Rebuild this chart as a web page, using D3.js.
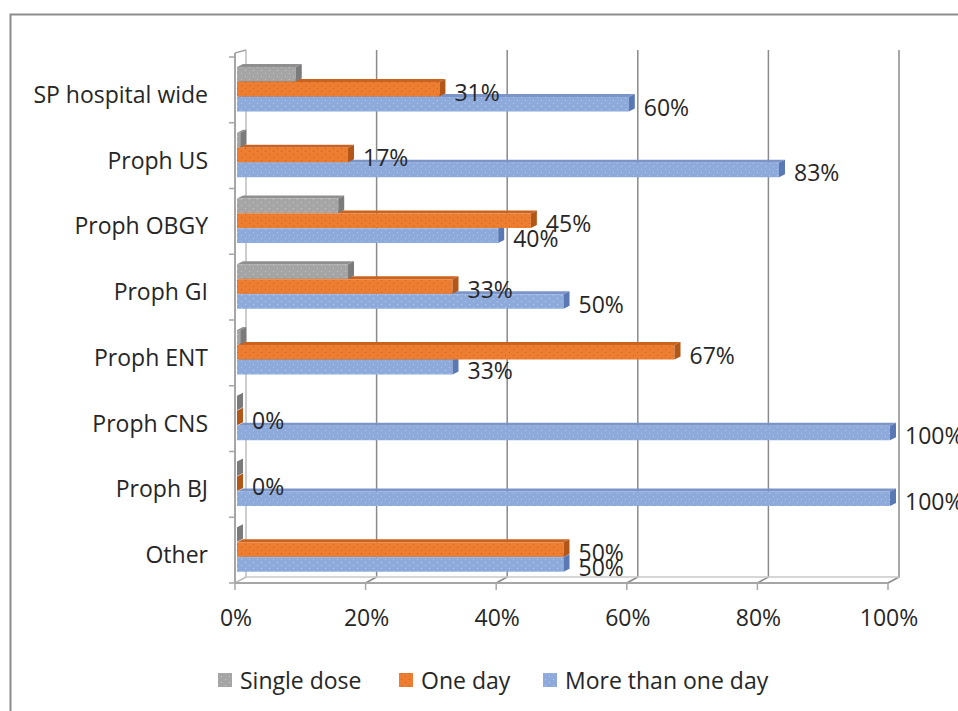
<!DOCTYPE html>
<html>
<head>
<meta charset="utf-8">
<script src="https://cdn.jsdelivr.net/npm/d3@7"></script>
<style>
  body { margin: 0; background: #fff; }
  svg { display: block; font-family: "Open Sans", sans-serif; }
</style>
</head>
<body>
<svg id="chart"></svg>
<script>
const categories = ["SP hospital wide", "Proph US", "Proph OBGY", "Proph GI", "Proph ENT", "Proph CNS", "Proph BJ", "Other"];
const seriesNames = ["Single dose", "One day", "More than one day"];
const singleDose = [0.09, 0.005, 0.155, 0.17, 0.005, 0, 0, 0];
const oneDay = [0.31, 0.17, 0.45, 0.33, 0.67, 0, 0, 0.50];
const moreThanOneDay = [0.60, 0.83, 0.40, 0.50, 0.33, 1.00, 1.00, 0.50];
const xTicks = [0, 0.2, 0.4, 0.6, 0.8, 1.0];

const width = 958, height = 711;
const colors = {
  "Single dose": { front: "#a5a5a5", side: "#7b7b7b", top: "#8f8f8f", dot: "#c8c8c8" },
  "One day": { front: "#ed7d31", side: "#b35718", top: "#c9631f", dot: "#c8621e" },
  "More than one day": { front: "#8eaadb", side: "#5a78b4", top: "#7b95c9", dot: "#b9cbea" }
};
const values = { "Single dose": singleDose, "One day": oneDay, "More than one day": moreThanOneDay };
const labelled = ["One day", "More than one day"];

// 3D offsets: back wall vs front axis, and bar depth
const DX = 11, DY = 6;
const BDX = 6, BDY = 3;

const x = d3.scaleLinear([0, 1], [235, 888]);
const y = d3.scaleBand(categories, [57, 583]);
const yInner = d3.scaleBand(seriesNames, [10, 55]);
const floorY = 583, topY = 50;
const fontSize = 23;

const svg = d3.select("#chart")
  .attr("width", width)
  .attr("height", height)
  .attr("viewBox", [0, 0, width, height]);

// dotted pattern fills, like the Excel texture
const defs = svg.append("defs");
seriesNames.forEach((s, i) => {
  const p = defs.append("pattern")
    .attr("id", "pat" + i)
    .attr("patternUnits", "userSpaceOnUse")
    .attr("width", 8).attr("height", 6);
  p.append("rect").attr("width", 8).attr("height", 6).attr("fill", colors[s].front);
  p.append("rect").attr("x", 1).attr("y", 1).attr("width", 1).attr("height", 1).attr("fill", colors[s].dot);
  p.append("rect").attr("x", 5).attr("y", 4).attr("width", 1).attr("height", 1).attr("fill", colors[s].dot);
});

// outer chart border
svg.append("rect")
  .attr("x", 10.5).attr("y", 14.5)
  .attr("width", 960).attr("height", 720)
  .attr("fill", "none")
  .attr("stroke", "#8c8c8c")
  .attr("stroke-width", 2);

const grid = svg.append("g").attr("fill", "none").attr("stroke", "#a0a0a0").attr("stroke-width", 1.5);

// back wall gridlines with small diagonal to the front floor
grid.selectAll("path.grid")
  .data(xTicks)
  .join("path")
  .attr("class", "grid")
  .attr("stroke", d => d === 0 ? "#bdbdbd" : "#8a8a8a")
  .attr("d", d => `M${x(d) + DX},${topY}V${floorY - DY}L${x(d)},${floorY}`);

// floor front and back edges
grid.append("path").attr("stroke", "#c8c8c8").attr("d", `M${x(0) + DX},${floorY - DY}H${x(1) + DX}`);
grid.append("path").attr("stroke", "#a6a6a6").attr("stroke-width", 2).attr("d", `M${x(0)},${floorY}H${x(1)}`);

// front bottom ticks
grid.selectAll("path.xt")
  .data(xTicks)
  .join("path")
  .attr("class", "xt")
  .attr("stroke", "#a6a6a6")
  .attr("d", d => `M${x(d)},${floorY}V${floorY + 7}`);

// front vertical category axis
grid.append("path").attr("stroke", "#a6a6a6").attr("stroke-width", 2)
  .attr("d", `M${x(0)},${y.range()[0] - 4}V${floorY}`);
grid.append("path").attr("stroke", "#a6a6a6")
  .attr("d", `M${x(0)},${y.range()[0] - 4}L${x(0) + DX},${topY}`);
grid.selectAll("path.yt")
  .data(d3.range(categories.length + 1))
  .join("path")
  .attr("class", "yt")
  .attr("stroke", "#a6a6a6")
  .attr("d", i => `M${x(0) - 6},${y.range()[0] + i * y.step()}H${x(0)}`);

// bars: lowest series first so upper bars cover the top faces below
const bars = svg.append("g");
[...seriesNames].reverse().forEach(s => {
  const si = seriesNames.indexOf(s);
  const g = bars.append("g");
  values[s].forEach((v, ci) => {
    const top = y(categories[ci]) + yInner(s);
    const bot = top + yInner.bandwidth() - 0.5;
    const xs = x(0) + 2, xe = x(v) + 2;
    g.append("path")
      .attr("fill", colors[s].top)
      .attr("d", `M${xs},${top}L${xs + BDX},${top - BDY}H${xe + BDX}L${xe},${top}Z`);
    g.append("rect")
      .attr("x", xs).attr("y", top)
      .attr("width", xe - xs).attr("height", bot - top)
      .attr("fill", `url(#pat${si})`);
    g.append("path")
      .attr("fill", colors[s].side)
      .attr("d", `M${xe},${top}L${xe + BDX},${top - BDY}V${bot - BDY}L${xe},${bot}Z`);
  });
});

// data labels
const labels = svg.append("g").attr("font-size", fontSize).attr("fill", "#262626");
labelled.forEach(s => {
  values[s].forEach((v, ci) => {
    const top = y(categories[ci]) + yInner(s);
    labels.append("text")
      .attr("x", x(v) + 17)
      .attr("y", top + yInner.bandwidth() / 2 + 2)
      .attr("dominant-baseline", "central")
      .text(Math.round(v * 100) + "%");
  });
});

// category labels
svg.append("g")
  .attr("font-size", fontSize).attr("fill", "#262626").attr("text-anchor", "end")
  .selectAll("text")
  .data(categories)
  .join("text")
  .attr("x", 208)
  .attr("y", d => y(d) + y.bandwidth() / 2 + 4)
  .attr("dominant-baseline", "central")
  .text(d => d);

// value axis labels
svg.append("g")
  .attr("font-size", fontSize).attr("fill", "#262626").attr("text-anchor", "middle")
  .selectAll("text")
  .data(xTicks)
  .join("text")
  .attr("x", d => x(d) + 1)
  .attr("y", 617)
  .attr("dominant-baseline", "central")
  .text(d3.format(".0%"));

// legend
const legendX = [218, 399, 543];
const legend = svg.append("g").attr("font-size", fontSize).attr("fill", "#262626");
seriesNames.forEach((s, i) => {
  legend.append("rect")
    .attr("x", legendX[i]).attr("y", 673)
    .attr("width", 14).attr("height", 14)
    .attr("fill", `url(#pat${i})`);
  legend.append("text")
    .attr("x", legendX[i] + 22).attr("y", 680)
    .attr("dominant-baseline", "central")
    .text(s);
});
</script>
</body>
</html>
